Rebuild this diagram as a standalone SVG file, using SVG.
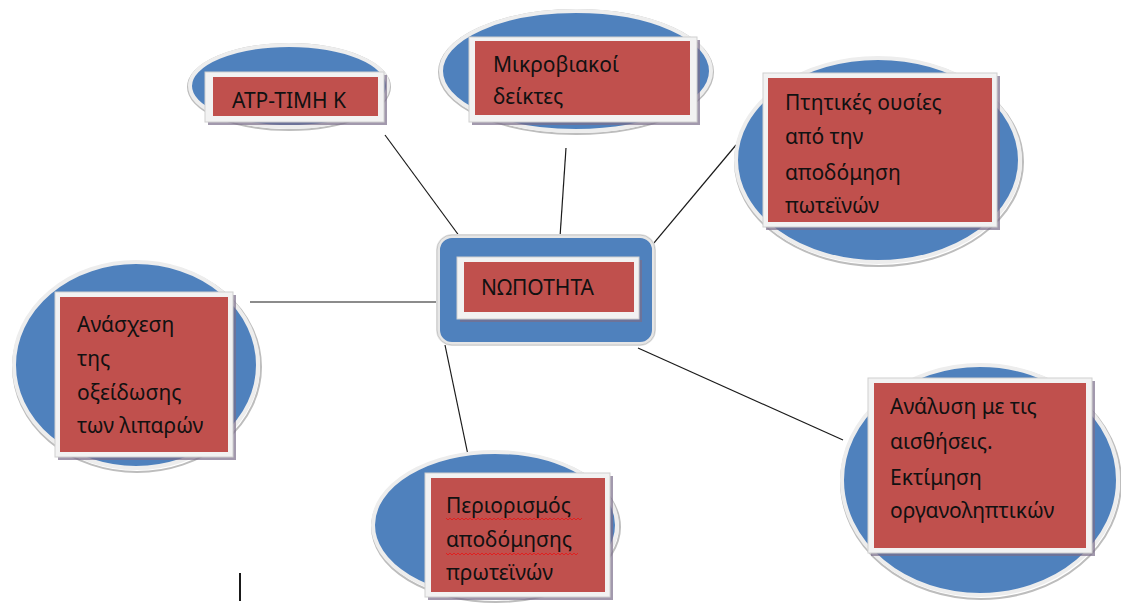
<svg xmlns="http://www.w3.org/2000/svg" width="1121" height="611" viewBox="0 0 1121 611">
<defs>
<style>
.ell{fill:#4F81BD;stroke:#EDEDED;stroke-width:4}
.ellsh{fill:none;stroke:#BDBDBD;stroke-width:2}
.frame{fill:#F2F2F2;stroke:#D0D0D0;stroke-width:1}
.fsh{fill:#7A6E8A;opacity:0.7}
.red{fill:#C0504D}
.t{font-family:"Noto Sans","Open Sans",sans-serif;font-size:21px;fill:#111111}
.con{stroke:#1A1A1A;stroke-width:1.2;fill:none}
.sq{stroke:#E02020;stroke-width:1;fill:none}
</style>
</defs>
<rect width="1121" height="611" fill="#FFFFFF"/>
<g id="connectors">
<line class="con" x1="385" y1="135" x2="460" y2="237"/>
<line class="con" x1="566" y1="148" x2="560" y2="237"/>
<line class="con" x1="736" y1="145" x2="638" y2="262"/>
<line class="con" x1="250" y1="302" x2="438" y2="302"/>
<line class="con" x1="445" y1="345" x2="468" y2="455"/>
<line class="con" x1="638" y1="348" x2="843" y2="440"/>
</g>
<g id="center">
<rect x="438" y="236" width="216" height="108" rx="14" fill="#4F81BD" stroke="#E6E6E6" stroke-width="4"/>
<rect x="437" y="235" width="218" height="110" rx="15" fill="none" stroke="#C8C8C8" stroke-width="1"/>
<rect class="fsh" x="460" y="260" width="182" height="62"/>
<rect class="frame" x="457" y="257" width="182" height="62"/>
<rect class="red" x="464" y="262" width="170" height="50"/>
<text class="t" x="481" y="295" font-size="23">ΝΩΠΟΤΗΤΑ</text>
</g>
<g id="atp">
<ellipse class="ellsh" cx="289" cy="87" rx="101" ry="43"/>
<ellipse class="ell" cx="289" cy="86" rx="99" ry="41"/>
<rect class="fsh" x="208" y="75" width="179" height="50"/>
<rect class="frame" x="205" y="72" width="179" height="50"/>
<rect class="red" x="213" y="77" width="165" height="39"/>
<text class="t" x="232" y="108" font-size="20">ATP-TIMH K</text>
</g>
<g id="mikrob">
<ellipse class="ellsh" cx="576" cy="72" rx="137" ry="62"/>
<ellipse class="ell" cx="576" cy="71" rx="135" ry="60"/>
<rect class="fsh" x="472" y="40" width="228" height="85"/>
<rect class="frame" x="469" y="37" width="228" height="85"/>
<rect class="red" x="475" y="41" width="215" height="74"/>
<text class="t" x="493" y="72">Μικροβιακοί</text>
<text class="t" x="493" y="104">δείκτες</text>
</g>
<g id="ptitikes">
<ellipse class="ellsh" cx="879" cy="162" rx="144" ry="104"/>
<ellipse class="ell" cx="878" cy="160" rx="142" ry="102"/>
<rect class="fsh" x="766" y="76" width="234" height="154"/>
<rect class="frame" x="763" y="73" width="234" height="154"/>
<rect class="red" x="768" y="78" width="224" height="144"/>
<text class="t" x="785" y="110">Πτητικές ουσίες</text>
<text class="t" x="785" y="144">από την</text>
<text class="t" x="785" y="180">αποδόμηση</text>
<text class="t" x="785" y="213">πωτεϊνών</text>
</g>
<g id="anasxesi">
<ellipse class="ellsh" cx="137" cy="367" rx="124" ry="105"/>
<ellipse class="ell" cx="136" cy="365" rx="122" ry="103"/>
<rect class="fsh" x="58" y="295" width="178" height="165"/>
<rect class="frame" x="55" y="292" width="178" height="165"/>
<rect class="red" x="60" y="297" width="168" height="155"/>
<text class="t" x="77" y="332">Ανάσχεση</text>
<text class="t" x="77" y="366">της</text>
<text class="t" x="77" y="400">οξείδωσης</text>
<text class="t" x="77" y="433">των λιπαρών</text>
</g>
<g id="periorismos">
<ellipse class="ellsh" cx="496" cy="527" rx="124" ry="75"/>
<ellipse class="ell" cx="495" cy="525" rx="122" ry="73"/>
<rect class="fsh" x="428" y="476" width="185" height="124"/>
<rect class="frame" x="425" y="473" width="185" height="124"/>
<rect class="red" x="431" y="478" width="174" height="114"/>
<text class="t" x="446" y="513">Περιορισμός</text>
<text class="t" x="446" y="547">αποδόμησης</text>
<text class="t" x="446" y="580">πρωτεϊνών</text>
<path class="sq" d="M446 518 l2 2 l2 -2 l2 2 l2 -2 l2 2 l2 -2 l2 2 l2 -2 l2 2 l2 -2 l2 2 l2 -2 l2 2 l2 -2 l2 2 l2 -2 l2 2 l2 -2 l2 2 l2 -2 l2 2 l2 -2 l2 2 l2 -2 l2 2 l2 -2 l2 2 l2 -2 l2 2 l2 -2 l2 2 l2 -2 l2 2 l2 -2 l2 2 l2 -2 l2 2 l2 -2 l2 2 l2 -2 l2 2 l2 -2 l2 2 l2 -2 l2 2 l2 -2 l2 2 l2 -2 l2 2 l2 -2 l2 2 l2 -2 l2 2 l2 -2 l2 2 l2 -2 l2 2 l2 -2 l2 2 l2 -2 l2 2 l2 -2 l2 2 l2 -2 l2 2 l2 -2 l2 2 l2 -2"/>
<path class="sq" d="M446 553 l2 2 l2 -2 l2 2 l2 -2 l2 2 l2 -2 l2 2 l2 -2 l2 2 l2 -2 l2 2 l2 -2 l2 2 l2 -2 l2 2 l2 -2 l2 2 l2 -2 l2 2 l2 -2 l2 2 l2 -2 l2 2 l2 -2 l2 2 l2 -2 l2 2 l2 -2 l2 2 l2 -2 l2 2 l2 -2 l2 2 l2 -2 l2 2 l2 -2 l2 2 l2 -2 l2 2 l2 -2 l2 2 l2 -2 l2 2 l2 -2 l2 2 l2 -2 l2 2 l2 -2 l2 2 l2 -2 l2 2 l2 -2 l2 2 l2 -2 l2 2 l2 -2 l2 2 l2 -2 l2 2 l2 -2 l2 2 l2 -2 l2 2 l2 -2 l2 2 l2 -2"/>
</g>
<g id="analysi">
<ellipse class="ellsh" cx="981" cy="482" rx="140" ry="117"/>
<ellipse class="ell" cx="980" cy="480" rx="138" ry="115"/>
<rect class="fsh" x="871" y="381" width="224" height="175"/>
<rect class="frame" x="868" y="378" width="224" height="175"/>
<rect class="red" x="874" y="383" width="212" height="165"/>
<text class="t" x="890" y="414">Ανάλυση με τις</text>
<text class="t" x="890" y="449">αισθήσεις.</text>
<text class="t" x="890" y="485">Εκτίμηση</text>
<text class="t" x="890" y="518">οργανοληπτικών</text>
</g>
<line x1="240" y1="573" x2="240" y2="601" stroke="#1A1A1A" stroke-width="2"/>
</svg>
